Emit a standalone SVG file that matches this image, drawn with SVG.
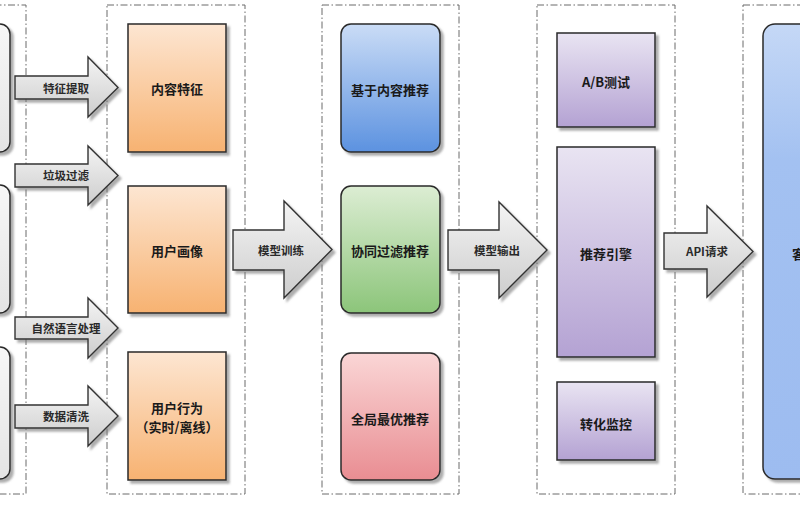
<svg xmlns="http://www.w3.org/2000/svg" width="800" height="518" viewBox="0 0 800 518">
<defs>
<style>
.col{fill:none;stroke:#6a6a6a;stroke-width:1;stroke-dasharray:7 2.5 1.5 2.5}
.box{stroke:#2a2a2a;stroke-width:1.5;filter:url(#sh)}
.arr{fill:url(#gArr);stroke:#333;stroke-width:1.4;stroke-linejoin:miter;filter:url(#sh)}
.t{font-family:"Noto Sans CJK SC","Noto Sans",sans-serif;font-weight:bold;font-size:13px;fill:#1a1a1a;text-anchor:middle;dominant-baseline:central}
.ta{font-family:"Noto Sans CJK SC","Noto Sans",sans-serif;font-weight:bold;font-size:11.5px;fill:#2a2a2a;text-anchor:middle;dominant-baseline:central}
</style>
<filter id="sh" x="-10%" y="-10%" width="130%" height="130%">
<feDropShadow dx="3" dy="3" stdDeviation="1.3" flood-color="#777" flood-opacity="0.6"/>
</filter>
<linearGradient id="gArr" x1="0" y1="0" x2="0" y2="1"><stop offset="0" stop-color="#f4f4f4"/><stop offset="1" stop-color="#cdcdcd"/></linearGradient>
<linearGradient id="gGray" x1="0" y1="0" x2="0" y2="1"><stop offset="0" stop-color="#f7f7f7"/><stop offset="1" stop-color="#e4e4e4"/></linearGradient>
<linearGradient id="gOr" x1="0" y1="0" x2="0" y2="1"><stop offset="0" stop-color="#fde6d2"/><stop offset="1" stop-color="#f7b271"/></linearGradient>
<linearGradient id="gBl" x1="0" y1="0" x2="0" y2="1"><stop offset="0" stop-color="#cadcf6"/><stop offset="1" stop-color="#5c92e0"/></linearGradient>
<linearGradient id="gGr" x1="0" y1="0" x2="0" y2="1"><stop offset="0" stop-color="#dcedd3"/><stop offset="1" stop-color="#8cc57a"/></linearGradient>
<linearGradient id="gRd" x1="0" y1="0" x2="0" y2="1"><stop offset="0" stop-color="#fad6d6"/><stop offset="1" stop-color="#e98d92"/></linearGradient>
<linearGradient id="gPu" x1="0" y1="0" x2="0" y2="1"><stop offset="0" stop-color="#e9e4f2"/><stop offset="1" stop-color="#b4a2d3"/></linearGradient>
<linearGradient id="gBig" x1="0" y1="0" x2="0" y2="1"><stop offset="0" stop-color="#c5d8f6"/><stop offset="0.3" stop-color="#a3c1f1"/><stop offset="1" stop-color="#9dbcf0"/></linearGradient>
</defs>
<rect width="800" height="518" fill="#fff"/>

<g id="containers">
<rect class="col" x="-100" y="5" width="126" height="489"/>
<rect class="col" x="107" y="5" width="138" height="489"/>
<rect class="col" x="322" y="5" width="137" height="489"/>
<rect class="col" x="537" y="5" width="138" height="489"/>
<rect class="col" x="743" y="5" width="160" height="489"/>
</g>

<g id="sources">
<rect class="box" x="-80" y="24" width="90" height="128" rx="10" fill="url(#gGray)"/>
<rect class="box" x="-80" y="185" width="90" height="128" rx="10" fill="url(#gGray)"/>
<rect class="box" x="-80" y="347" width="90" height="132" rx="10" fill="url(#gGray)"/>
</g>

<g id="n-content-feature"><rect class="box" x="128" y="24" width="98" height="128" fill="url(#gOr)"/><text class="t" x="177" y="88">内容特征</text></g>
<g id="n-user-profile"><rect class="box" x="128" y="186" width="98" height="127" fill="url(#gOr)"/><text class="t" x="177" y="250">用户画像</text></g>
<g id="n-user-behavior"><rect class="box" x="128" y="352" width="98" height="128" fill="url(#gOr)"/><text class="t" x="177" y="407">用户行为</text><text class="t" x="177" y="426">（实时/离线）</text></g>

<g id="n-content-rec"><rect class="box" x="341" y="24" width="99" height="128" rx="10" fill="url(#gBl)"/><text class="t" x="390" y="89">基于内容推荐</text></g>
<g id="n-cf-rec"><rect class="box" x="341" y="186" width="99" height="127" rx="10" fill="url(#gGr)"/><text class="t" x="390" y="250">协同过滤推荐</text></g>
<g id="n-global-rec"><rect class="box" x="341" y="353" width="99" height="127" rx="10" fill="url(#gRd)"/><text class="t" x="390" y="418">全局最优推荐</text></g>

<g id="n-ab"><rect class="box" x="557" y="33" width="98" height="94" fill="url(#gPu)"/><text class="t" x="606" y="81">A/B测试</text></g>
<g id="n-engine"><rect class="box" x="557" y="147" width="98" height="210" fill="url(#gPu)"/><text class="t" x="606" y="253">推荐引擎</text></g>
<g id="n-monitor"><rect class="box" x="557" y="382" width="98" height="78" fill="url(#gPu)"/><text class="t" x="606" y="423">转化监控</text></g>

<g id="n-client"><rect class="box" x="763" y="24" width="140" height="455" rx="12" fill="url(#gBig)"/><text class="t" x="792" y="253" style="text-anchor:start">客</text></g>

<g id="connectors">
<path class="arr" d="M15,76 H88 V57 L118,87.5 L88,117 V99 H15 Z"/>
<text class="ta" x="66" y="88">特征提取</text>
<path class="arr" d="M15,164 H88 V146 L118,175.5 L88,205 V187 H15 Z"/>
<text class="ta" x="66" y="175">垃圾过滤</text>
<path class="arr" d="M15,317 H88 V298 L118,328 L88,358 V339 H15 Z"/>
<text class="ta" x="66" y="328">自然语言处理</text>
<path class="arr" d="M15,405 H88 V386 L118,416 L88,446 V428 H15 Z"/>
<text class="ta" x="66" y="416">数据清洗</text>
<path class="arr" d="M233,230 H284 V201 L332,249.5 L284,298 V270 H233 Z"/>
<text class="ta" x="281" y="250">模型训练</text>
<path class="arr" d="M448,230 H499 V202 L547,250 L499,298 V270 H448 Z"/>
<text class="ta" x="497" y="250">模型输出</text>
<path class="arr" d="M664,233 H707 V206 L753,251.5 L707,297 V269 H664 Z"/>
<text class="ta" x="707" y="251">API请求</text>
</g>
</svg>
